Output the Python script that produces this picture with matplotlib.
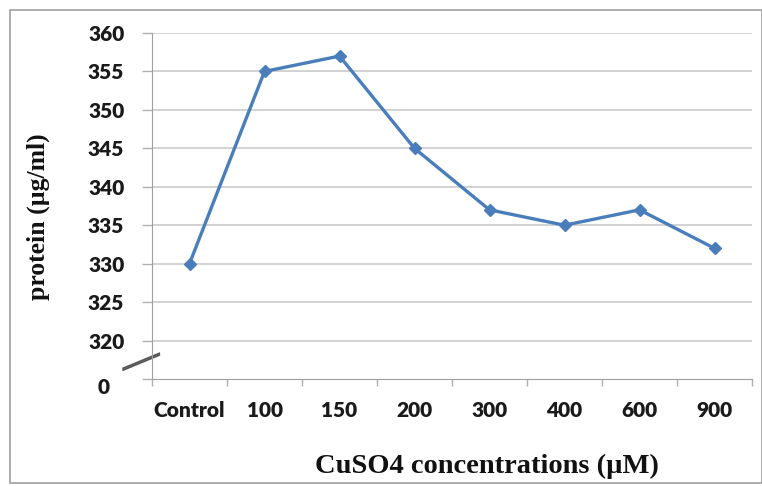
import matplotlib.pyplot as plt
from matplotlib.patches import Rectangle
from matplotlib.transforms import ScaledTranslation

categories = ["Control", "100", "150", "200", "300", "400", "600", "900"]
protein = [330, 355, 357, 345, 337, 335, 337, 332]
y_ticks = [315, 320, 325, 330, 335, 340, 345, 350, 355, 360]
y_tick_labels = ["0", "320", "325", "330", "335", "340", "345", "350", "355", "360"]

W, H = 762, 486
fig = plt.figure(figsize=(W / 100, H / 100), dpi=100)
ax = fig.add_axes([152 / W, 1 - 379 / H, 600 / W, 346 / H])

# outer chart frame
fig.patches.append(Rectangle((10 / W, 1 - 483 / H), 752 / W, 473 / H,
                             transform=fig.transFigure, fill=False,
                             edgecolor="#a0a0a0", linewidth=1.2))

x = list(range(len(categories)))
ax.plot(x, protein, color="#4a7ebb", linewidth=2.4, marker="D",
        markersize=6.5, markerfacecolor="#4a7ebb", markeredgecolor="#4a7ebb", zorder=3)

ax.set_xlim(-0.5, len(categories) - 0.5)
ax.set_ylim(315, 360)

# gridlines only for the upper (broken) scale
for v in y_ticks[1:]:
    ax.axhline(v, color="#c6c6c6", linewidth=1.1, zorder=1)

ax.set_yticks(y_ticks)
ax.set_yticklabels(y_tick_labels)
ax.tick_params(axis="y", length=7, width=1, color="#b0b0b0", pad=13)
for lab in ax.get_yticklabels():
    lab.set_fontfamily("Lato")
    lab.set_fontweight("heavy")
    lab.set_fontsize(15)
    lab.set_color("#1a1a1a")
zero = ax.get_yticklabels()[0]
zero.set_transform(zero.get_transform() + ScaledTranslation(-0.15, -0.07, fig.dpi_scale_trans))

# ticks at category boundaries, labels at centers
ax.set_xticks([i - 0.5 for i in range(len(categories) + 1)])
ax.set_xticklabels([])
ax.tick_params(axis="x", which="major", length=5, width=1, color="#b0b0b0")
ax.set_xticks(x, minor=True)
ax.set_xticklabels(categories, minor=True)
ax.tick_params(axis="x", which="minor", length=0, pad=16)
for lab in ax.get_xticklabels(minor=True):
    lab.set_fontfamily("Lato")
    lab.set_fontweight("heavy")
    lab.set_fontsize(15)
    lab.set_color("#1a1a1a")

for s in ["top", "right"]:
    ax.spines[s].set_visible(False)
ax.spines["left"].set_color("#a0a0a0")
ax.spines["bottom"].set_color("#a0a0a0")

# axis break mark
for dy in (0, 0.005):
    ax.plot([-0.048, 0.012], [0.026 + dy, 0.069 + dy], transform=ax.transAxes,
            color="#555555", linewidth=1.3, clip_on=False)

fig.text(38 / W, 1 - 217 / H, "protein (µg/ml)", rotation=90, ha="center", va="center",
         fontfamily="Liberation Serif", fontweight="bold", fontsize=18.5, color="#111111")
fig.text(487 / W, 1 - 466 / H, "CuSO4 concentrations (µM)", ha="center", va="center",
         fontfamily="Liberation Serif", fontweight="bold", fontsize=20.5, color="#111111")

fig.savefig("out.png", dpi=100)
